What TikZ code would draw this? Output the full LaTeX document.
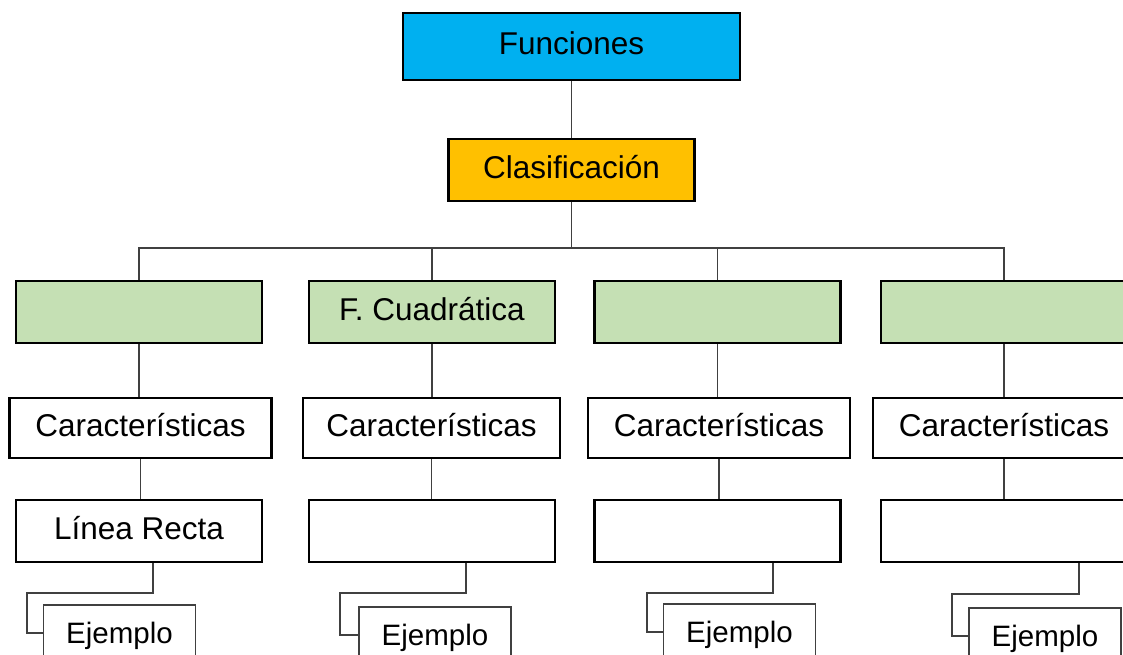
\documentclass[tikz,border=0pt]{standalone}
\usepackage{fontspec}
\setmainfont{Liberation Sans}
\definecolor{azul}{HTML}{00B0F0}
\definecolor{naranja}{HTML}{FFC000}
\definecolor{verde}{HTML}{C5E0B4}
\definecolor{linea}{HTML}{404040}

\begin{document}
\begin{tikzpicture}[x=1pt, y=-1pt,
        caja/.style={draw=black, line width=2.2pt, inner sep=0pt, text height=22pt, text depth=6pt,
            font=\fontsize{31.5}{36}\selectfont},
        ejemplo/.style={draw=linea, line width=1.3pt, inner sep=0pt, minimum width=152pt, minimum height=56pt,
            text height=21pt, text depth=0pt, font=\fontsize{29.5}{34}\selectfont},
        conector/.style={draw=linea, line width=1.1pt}]
        \useasboundingbox (0,0) rectangle (1123,654);
        \clip (0,0) rectangle (1123,654);

        \node[caja, fill=azul, minimum width=337pt, minimum height=67pt] (fun) at (571.5,46.5) {Funciones};
        \node[caja, fill=naranja, minimum width=246pt, minimum height=62pt] (cla) at (571.5,170) {Clasificación};
        \coordinate (bus) at (571.5,248);

        \foreach \n/\x/\t in {1/139/{}, 2/432/{F. Cuadrática}, 3/717.5/{}, 4/1004/{}}
            \node[caja, fill=verde, minimum width=246pt, minimum height=62pt] (g\n) at (\x,312) {\t};

        \foreach \n/\x/\w in {1/140.5/262, 2/431.5/257, 3/719/262, 4/1004/262}
            \node[caja, minimum width=\w pt, minimum height=60pt] (c\n) at (\x,428) {Características};

        \foreach \n/\x/\t in {1/139/{Línea Recta}, 2/432/{}, 3/717.5/{}, 4/1004/{}}
            \node[caja, minimum width=246pt, minimum height=62pt] (r\n) at (\x,531) {\t};

        \foreach \n/\x/\y in {1/119.5/633, 2/435/635, 3/739.5/632, 4/1045/636}
            \node[ejemplo] (e\n) at (\x,\y) {Ejemplo};

        \draw[conector] (fun) -- (cla);
        \draw[conector] (cla) -- (bus);
        \foreach \n in {1,...,4} {
            \draw[conector] (bus) -| (g\n);
            \draw[conector] (g\n.south) -- (g\n.south |- c\n.north);
            \draw[conector] (c\n.south) -- (c\n.south |- r\n.north);
        }

        \foreach \n/\vx/\kx/\ky in {1/153/27/593, 2/466/340/593, 3/773/647/593, 4/1079/952/594} {
            \coordinate (a\n) at (\vx,0);
            \coordinate (k\n) at (\kx,\ky);
            \draw[conector] (r\n.south -| a\n) |- (k\n) |- (e\n.west);
        }
    \end{tikzpicture}
\end{document}
